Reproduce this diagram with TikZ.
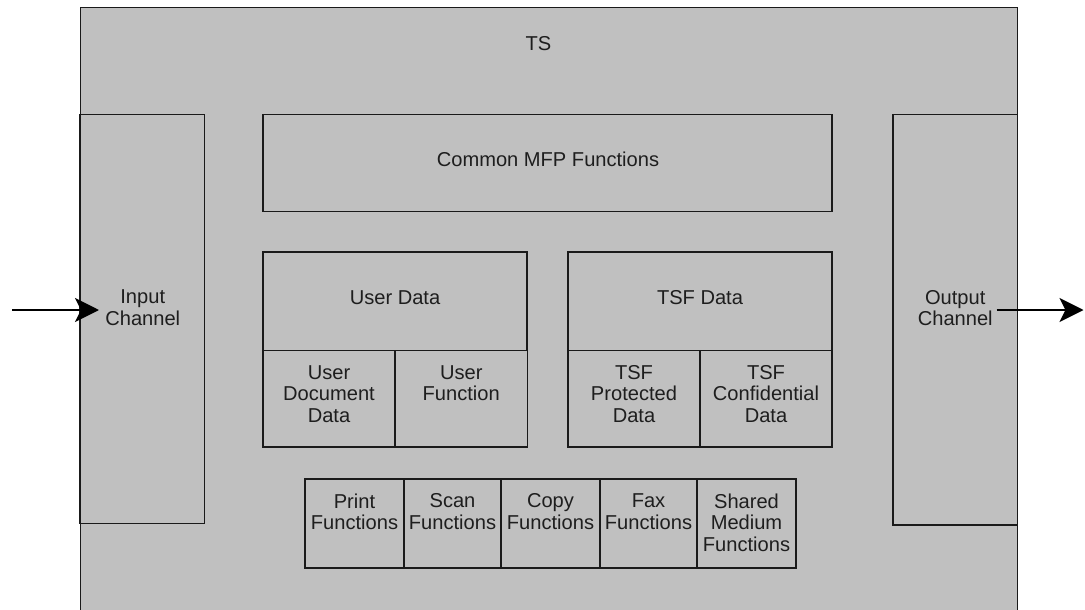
\documentclass[tikz,border=0pt]{standalone}
\usepackage{fontspec}
\setmainfont{Liberation Sans}
\usetikzlibrary{arrows.meta}
\definecolor{boxfill}{HTML}{C0C0C0}
\definecolor{edge}{HTML}{1A1A1A}
\definecolor{ink}{HTML}{1E1E1E}
\tikzset{
  box/.style={draw=edge, fill=boxfill, line width=1.2pt, inner sep=0pt, rectangle},
  lbl/.style={anchor=north, inner sep=0pt, align=center, text=ink,
    font=\fontsize{20.1}{21.7}\selectfont},
  arr/.style={draw=black, line width=2.4pt, -{Stealth[length=24pt,width=24pt,inset=6pt]}}
}
\begin{document}
\begin{tikzpicture}[x=1pt,y=-1pt]
\useasboundingbox (0,0) rectangle (1085,610);
% outer TS box
\node[box, line width=1pt, minimum width=937.5pt, minimum height=612.5pt] (ts) at (548.75,313.75) {};
\node[lbl] (tsl) at (538.5,36.7) {TS};
% channels
\node[box, minimum width=124.5pt, minimum height=409pt] (inp) at (142.25,319) {};
\node[lbl] (inpl) at (142.75,289.3) {Input\\Channel};
\node[box, minimum width=124.5pt, minimum height=410.5pt] (outp) at (955.25,319.75) {};
\node[lbl] (outpl) at (955.25,289.8) {Output\\Channel};
% common
\node[box, minimum width=569pt, minimum height=97pt] (cmn) at (547.5,163) {};
\node[lbl] (cmnl) at (548,151.7) {Common MFP Functions};
% user data
\node[box, minimum width=264pt, minimum height=98.5pt] (ud) at (395,301.25) {};
\node[lbl] (udl) at (395,290) {User Data};
\node[box, minimum width=132pt, minimum height=96.5pt] (udd) at (329,398.75) {};
\node[lbl] (uddl) at (329,365) {User\\Document\\Data};
\node[box, minimum width=132.5pt, minimum height=96.5pt] (uf) at (461.25,398.75) {};
\node[lbl] (ufl) at (461.25,365) {User\\Function};
% tsf data
\node[box, minimum width=264pt, minimum height=98.5pt] (td) at (700,301.25) {};
\node[lbl] (tdl) at (700,290) {TSF Data};
\node[box, minimum width=132pt, minimum height=96.5pt] (tpd) at (634,398.75) {};
\node[lbl] (tpdl) at (634,365) {TSF\\Protected\\Data};
\node[box, minimum width=132pt, minimum height=96.5pt] (tcd) at (766,398.75) {};
\node[lbl] (tcdl) at (766,365) {TSF\\Confidential\\Data};
% bottom row
\node[box, minimum width=99pt, minimum height=89pt] (pf) at (354.5,523.5) {};
\node[lbl] (pfl) at (354.5,493.3) {Print\\Functions};
\node[box, minimum width=97pt, minimum height=89pt] (sf) at (452.5,523.5) {};
\node[lbl] (sfl) at (452.5,493.3) {Scan\\Functions};
\node[box, minimum width=99pt, minimum height=89pt] (cf) at (550.5,523.5) {};
\node[lbl] (cfl) at (550.5,493.3) {Copy\\Functions};
\node[box, minimum width=97pt, minimum height=89pt] (ff) at (648.5,523.5) {};
\node[lbl] (ffl) at (648.5,493.3) {Fax\\Functions};
\node[box, minimum width=99pt, minimum height=89pt] (smf) at (746.5,523.5) {};
\node[lbl] (smfl) at (746.5,493.3) {Shared\\Medium\\Functions};
% arrows
\coordinate (inS) at (12,310);
\coordinate (inE) at (99,310);
\coordinate (outS) at (996.5,310);
\coordinate (outE) at (1083.5,310);
\draw[arr] (inS) -- (inE);
\draw[arr] (outS) -- (outE);
\end{tikzpicture}
\end{document}
